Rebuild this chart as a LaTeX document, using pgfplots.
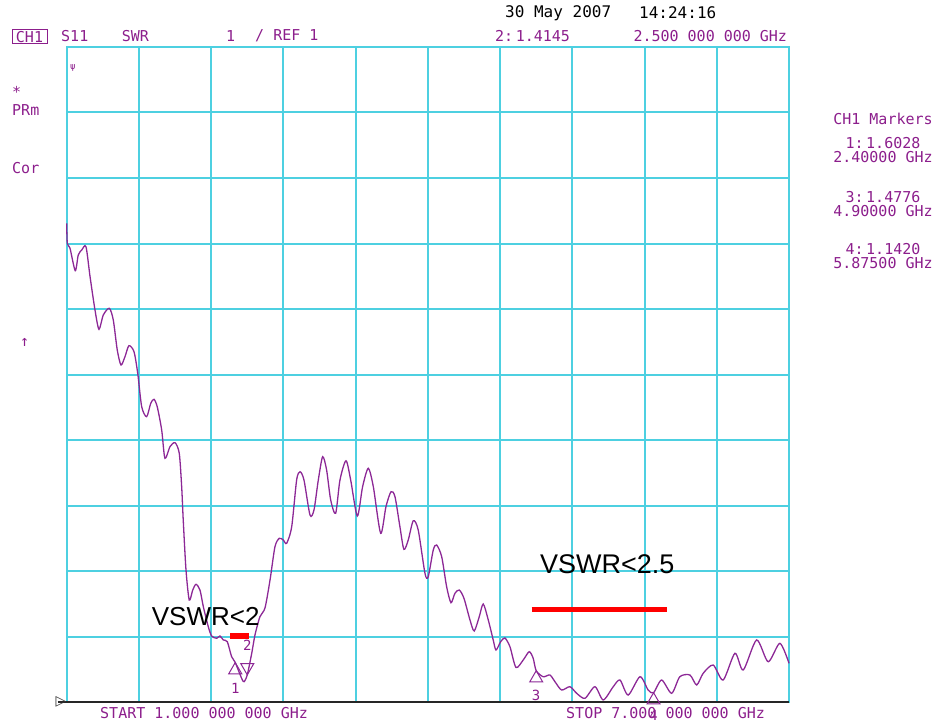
\documentclass[border=0pt]{standalone}
\usepackage{pgfplots}
\pgfplotsset{compat=1.18}
\usepackage{fontspec}
\setmainfont{Liberation Sans}
\newfontfamily\mono{DejaVu Sans Mono}
\newfontfamily\dejavu{DejaVu Sans}
\definecolor{gridc}{RGB}{77,208,225}
\definecolor{trace}{RGB}{140,40,150}
\definecolor{txt}{RGB}{140,30,140}
\pgfplotstableread{
f swr
1.000 8.308
1.005 8.003
1.027 7.931
1.071 7.585
1.096 7.824
1.125 7.901
1.160 7.951
1.194 7.493
1.235 6.985
1.268 6.690
1.304 6.908
1.354 7.011
1.387 6.832
1.420 6.374
1.451 6.145
1.484 6.272
1.517 6.440
1.559 6.348
1.590 6.018
1.623 5.508
1.664 5.356
1.698 5.560
1.725 5.621
1.752 5.508
1.789 5.153
1.816 4.721
1.858 4.898
1.900 4.959
1.935 4.797
1.955 4.287
1.968 3.779
1.991 3.015
2.018 2.557
2.047 2.710
2.074 2.797
2.107 2.710
2.135 2.455
2.176 2.150
2.204 2.008
2.246 1.973
2.273 2.008
2.301 1.947
2.334 1.921
2.370 1.692
2.400 1.603
2.453 1.362
2.473 1.310
2.500 1.415
2.537 1.744
2.564 2.023
2.605 2.302
2.647 2.435
2.689 2.863
2.730 3.371
2.766 3.499
2.799 3.473
2.827 3.423
2.869 3.676
2.910 4.389
2.938 4.516
2.971 4.389
3.021 3.855
3.054 3.931
3.090 4.389
3.126 4.745
3.159 4.542
3.193 4.084
3.234 3.881
3.270 4.389
3.320 4.684
3.359 4.389
3.414 3.840
3.458 4.287
3.505 4.568
3.547 4.287
3.608 3.576
3.652 3.982
3.694 4.211
3.727 4.134
3.768 3.676
3.801 3.331
3.837 3.473
3.879 3.768
3.920 3.626
3.976 2.965
4.003 2.913
4.045 3.321
4.073 3.397
4.115 3.218
4.156 2.760
4.192 2.516
4.225 2.660
4.261 2.710
4.300 2.583
4.350 2.252
4.385 2.084
4.427 2.302
4.460 2.496
4.502 2.252
4.543 1.947
4.566 1.794
4.605 1.921
4.640 1.977
4.682 1.844
4.732 1.527
4.792 1.641
4.842 1.768
4.875 1.667
4.900 1.478
4.958 1.386
5.014 1.412
5.056 1.310
5.111 1.183
5.180 1.234
5.236 1.133
5.305 1.056
5.388 1.234
5.457 1.031
5.540 1.234
5.596 1.336
5.664 1.107
5.762 1.386
5.830 1.183
5.875 1.142
5.942 1.336
6.025 1.133
6.093 1.386
6.177 1.412
6.233 1.260
6.287 1.438
6.370 1.565
6.453 1.336
6.551 1.744
6.620 1.489
6.731 1.947
6.827 1.615
6.924 1.896
7.000 1.591
}\tracedata
\begin{document}
\begin{tikzpicture}
\useasboundingbox (0pt,0pt) rectangle (941pt,724pt);
\begin{axis}[
  at={(66.7pt,22pt)}, anchor=south west,
  scale only axis, width=722.3pt, height=655pt,
  xmin=1, xmax=7, ymin=1, ymax=11,
  xtick={1,1.6,2.2,2.8,3.4,4,4.6,5.2,5.8,6.4,7},
  ytick={1,2,3,4,5,6,7,8,9,10,11},
  xticklabels={}, yticklabels={},
  major tick length=0pt,
  grid=major,
  major grid style={gridc, line width=2pt},
  axis line style={gridc, line width=2pt},
  clip=false,
]
\draw[black!85, line width=1.5pt] ([xshift=-9pt]axis cs:1,1) -- (axis cs:7,1);
\addplot[trace, line width=1.3pt, smooth, tension=0.45] table[x=f, y=swr] {\tracedata};
% VSWR limit bars
\addplot[red, line width=6pt] coordinates {(2.357,2.01) (2.517,2.01)};
\addplot[red, line width=5pt] coordinates {(4.862,2.41) (5.983,2.41)};
% markers (triangles up, apex on trace)
\addplot[only marks, mark=triangle, mark size=7.5pt, trace, line width=1pt,
  mark options={yshift=-7.5pt},
  point meta=explicit symbolic,
  nodes near coords, nodes near coords align={anchor=center},
  nodes near coords style={font=\mono\fontsize{14}{14}\selectfont, text=txt, inner sep=0pt, yshift=-18.5pt}]
  coordinates {(2.4,1.6028) [1]};
\addplot[only marks, mark=triangle, mark size=7.5pt, trace, line width=1pt,
  mark options={yshift=-7.5pt},
  point meta=explicit symbolic,
  nodes near coords, nodes near coords align={anchor=center},
  nodes near coords style={font=\mono\fontsize{14}{14}\selectfont, text=txt, inner sep=0pt, yshift=-17pt}]
  coordinates {(4.9,1.4776) [3]};
\addplot[only marks, mark=triangle, mark size=7.5pt, trace, line width=1pt,
  mark options={yshift=-7.5pt},
  point meta=explicit symbolic,
  nodes near coords, nodes near coords align={anchor=center},
  nodes near coords style={font=\mono\fontsize{14}{14}\selectfont, text=txt, inner sep=0pt, yshift=-15pt}]
  coordinates {(5.875,1.142) [4]};
% active marker 2 (triangle down)
\addplot[only marks, mark=triangle, mark size=7.5pt, trace, line width=1pt,
  mark options={rotate=180, yshift=-7.5pt},
  point meta=explicit symbolic,
  nodes near coords, nodes near coords align={anchor=center},
  nodes near coords style={font=\mono\fontsize{14}{14}\selectfont, text=txt, inner sep=0pt, yshift=22pt}]
  coordinates {(2.5,1.4145) [2]};
\end{axis}
% reference level glyph
\node[font=\dejavu\fontsize{14}{14}\selectfont, text=black!80, inner sep=0pt] at (61pt,22pt) {▷};
% header
\node[draw=txt, line width=1pt, minimum width=35pt, minimum height=14pt, inner sep=0pt,
  font=\mono\fontsize{15}{15}\selectfont, text=txt] at (29.5pt,687pt) {CH1};
\begin{scope}[every node/.style={anchor=west, inner sep=0pt, font=\mono\fontsize{15}{15}\selectfont, text=txt}]
\node at (61pt,688pt) {S11};
\node at (121.7pt,688pt) {SWR};
\node at (226pt,688pt) {1};
\node at (255pt,688pt) {/ REF 1};
\node at (495pt,688pt) {2:\,1.4145};
\node at (633.3pt,688pt) {2.500 000 000 GHz};
\node at (12pt,632pt) {*};
\node at (12pt,614pt) {PRm};
\node at (12pt,556pt) {Cor};
\node at (20pt,382pt) {↑};
\node[font=\mono\fontsize{9}{9}\selectfont] at (70pt,656pt) {ψ};
\node at (100pt,10.7pt) {START 1.000 000 000 GHz};
\node at (566pt,10.7pt) {STOP 7.000 000 000 GHz};
\end{scope}
\begin{scope}[every node/.style={anchor=west, inner sep=0pt, font=\mono\fontsize{16}{16}\selectfont, text=black}]
\node at (505pt,711pt) {30 May 2007};
\node at (639pt,711pt) {14:24:16};
\end{scope}
\begin{scope}[every node/.style={anchor=center, inner sep=0pt, font=\mono\fontsize{15}{15}\selectfont, text=txt}]
\node at (883pt,605pt) {CH1 Markers};
\node at (883pt,581pt) {1:\,1.6028};
\node at (883pt,567pt) {2.40000 GHz};
\node at (883pt,527pt) {3:\,1.4776};
\node at (883pt,513pt) {4.90000 GHz};
\node at (883pt,475pt) {4:\,1.1420};
\node at (883pt,461pt) {5.87500 GHz};
\end{scope}
% annotations
\node[anchor=base west, inner sep=0pt, font=\fontsize{26}{26}\selectfont] at (151.7pt,99pt) {VSWR<2};
\node[anchor=base west, inner sep=0pt, font=\fontsize{27}{27}\selectfont] at (540pt,150.7pt) {VSWR<2.5};
\end{tikzpicture}
\end{document}
